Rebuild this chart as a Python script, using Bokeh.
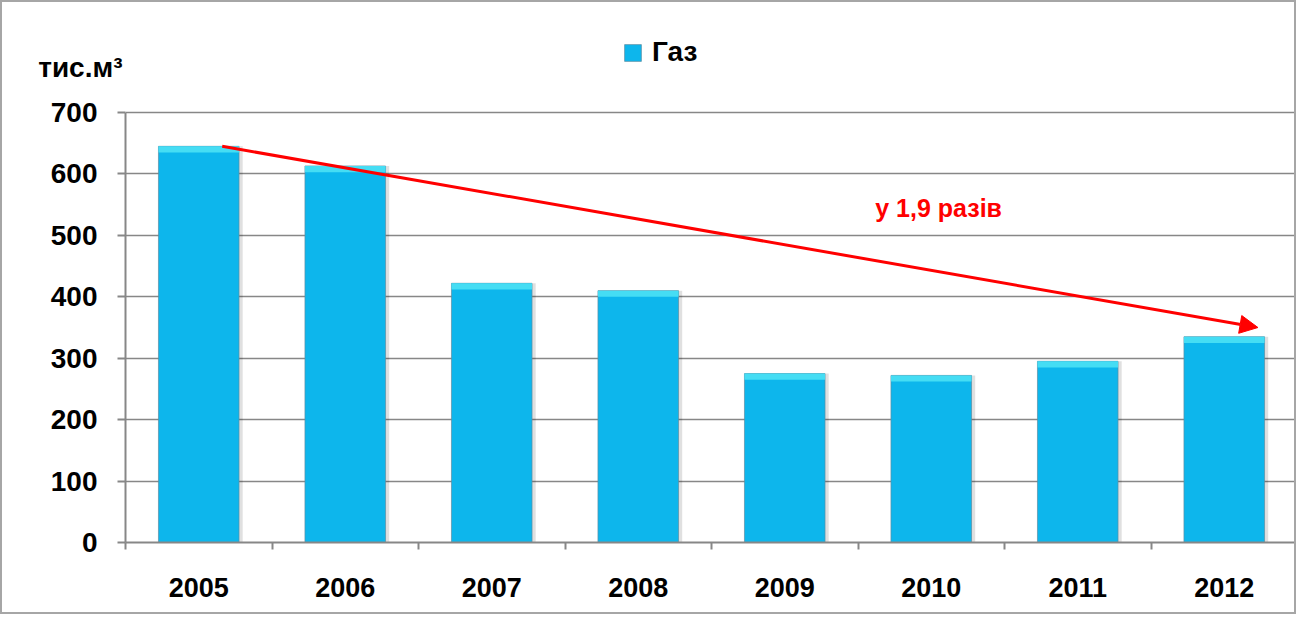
from bokeh.plotting import figure
from bokeh.models import (ColumnDataSource, FixedTicker, Range1d, Label, Arrow,
                          NormalHead, Legend, LegendItem, LinearAxis)
from bokeh.embed import file_html
from bokeh.resources import INLINE

# ---- data ----
years = ["2005", "2006", "2007", "2008", "2009", "2010", "2011", "2012"]
gas = [645, 613, 422, 410, 275, 272, 295, 335]
y_ticks = [0, 100, 200, 300, 400, 500, 600, 700]
legend_label = "Газ"
unit_label = "тис.м³"
ratio_label = "у 1,9 разів"

FONT = "Liberation Sans"
GRAY = "#878787"
UNIT_POS = 773      # vertical position (axis units) of the unit caption
Y_TOP = 858         # headroom above 700 for legend and caption

xs = [i + 0.5 for i in range(len(years))]
src = ColumnDataSource(dict(
    x=xs,
    xs_shadow=[v + 0.025 for v in xs],
    top=gas,
    strip=[v - 10 for v in gas],
    years=years,
))

p = figure(width=1296, height=614,
           x_range=Range1d(0, len(years)), y_range=Range1d(0, Y_TOP),
           output_backend="svg", toolbar_location=None,
           min_border_left=123, min_border_right=1,
           min_border_top=13, min_border_bottom=74)
p.styles = {"border": "2px solid #a6a6a6"}
p.outline_line_color = None
p.background_fill_color = "white"
p.border_fill_color = "white"

# bars
p.vbar(x="xs_shadow", top="top", bottom=0, width=0.55, source=src,
       fill_color="#000000", fill_alpha=0.12, line_color=None)
bars = p.vbar(x="x", top="top", bottom=0, width=0.55, source=src,
              fill_color="#0DB6EC", line_color="#5d8fa3", line_width=1,
              line_alpha=0.7)
p.vbar(x="x", top="top", bottom="strip", width=0.55, source=src,
       fill_color="#45DDF4", line_color=None)

# x axis
xa = p.xaxis[0]
xa.ticker = FixedTicker(ticks=xs, minor_ticks=list(range(len(years) + 1)))
xa.major_label_overrides = {xv: yr for xv, yr in zip(xs, years)}
xa.major_tick_line_color = None
xa.major_tick_out = 0
xa.major_tick_in = 0
xa.minor_tick_line_color = GRAY
xa.minor_tick_line_width = 2
xa.minor_tick_out = 7
xa.minor_tick_in = 0
xa.axis_line_color = GRAY
xa.axis_line_width = 2
xa.major_label_text_font = FONT
xa.major_label_text_font_style = "bold"
xa.major_label_text_font_size = "27px"
xa.major_label_text_color = "black"
xa.major_label_standoff = 28

# y axis: line + ticks only (bounded to 0..700)
ya = p.yaxis[0]
ya.ticker = FixedTicker(ticks=y_ticks)
ya.bounds = (y_ticks[0], y_ticks[-1])
ya.minor_tick_line_color = None
ya.major_tick_line_color = GRAY
ya.major_tick_line_width = 2
ya.major_tick_out = 8
ya.major_tick_in = 0
ya.axis_line_color = GRAY
ya.axis_line_width = 2
ya.major_label_overrides = {t: "" for t in y_ticks}
ya.major_label_text_font_size = "0px"
ya.major_label_standoff = 0


def label_axis(ticks, overrides, standoff):
    ax = LinearAxis(ticker=FixedTicker(ticks=ticks))
    ax.major_label_overrides = overrides
    ax.axis_line_color = None
    ax.major_tick_line_color = None
    ax.minor_tick_line_color = None
    ax.major_tick_out = 0
    ax.major_tick_in = 0
    ax.major_label_text_font = FONT
    ax.major_label_text_font_style = "bold"
    ax.major_label_text_font_size = "28px"
    ax.major_label_text_color = "black"
    ax.major_label_standoff = standoff
    return ax


# unit caption (next to the axis line)
p.add_layout(label_axis([UNIT_POS], {UNIT_POS: unit_label}, -5), "left")
# tick numbers
p.add_layout(label_axis(y_ticks, {}, -62), "left")

p.xgrid.visible = False
p.ygrid.ticker = FixedTicker(ticks=y_ticks)
p.ygrid.grid_line_color = GRAY
p.ygrid.grid_line_width = 1.5

# legend
legend = Legend(items=[LegendItem(label=legend_label, renderers=[bars])],
                location=(497, 474), orientation="horizontal",
                label_text_font=FONT, label_text_font_style="bold",
                label_text_font_size="28px", label_text_color="black",
                glyph_width=21, glyph_height=21, label_standoff=9,
                padding=0, spacing=0, margin=0,
                border_line_color=None, background_fill_alpha=0)
p.add_layout(legend)

# trend arrow
p.add_layout(Arrow(x_start=0.66, y_start=gas[0], x_end=7.73, y_end=gas[-1] + 15,
                   line_color="#FF0000", line_width=3,
                   end=NormalHead(size=18, fill_color="#FF0000",
                                  line_color="#FF0000")))
p.add_layout(Label(x=5.55, y=544, text=ratio_label, text_font=FONT,
                   text_font_style="bold", text_font_size="25px",
                   text_color="#FF0000", text_align="center",
                   text_baseline="middle"))

open("out.html", "w").write(file_html(p, INLINE))
